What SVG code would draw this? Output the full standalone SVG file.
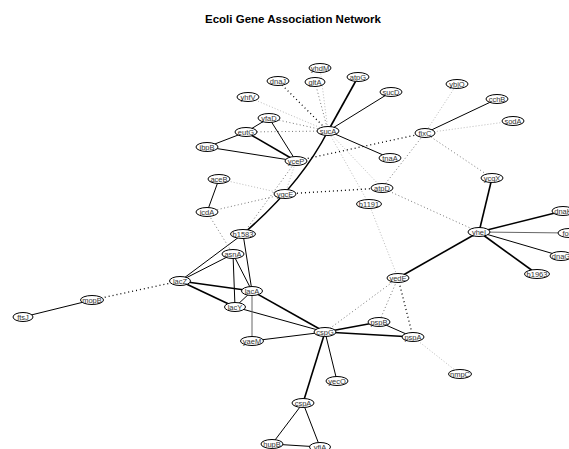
<svg xmlns="http://www.w3.org/2000/svg" width="569" height="449" viewBox="0 0 569 449">
<style>
.n ellipse{fill:#fff;stroke:#000;stroke-width:1}
.n text{font-family:"Liberation Sans",Arial,sans-serif;font-size:7.5px;fill:#333;text-anchor:middle}
.title{font-family:"Liberation Sans",Arial,sans-serif;font-size:11.5px;font-weight:bold;fill:#000;text-anchor:middle}
#edges line,#edges path{fill:none}
.s1{stroke:#000;stroke-width:1.6}
.s2{stroke:#000;stroke-width:1}
.s3{stroke:#666;stroke-width:1}
.d1{stroke:#000;stroke-width:1.3;stroke-dasharray:1 3}
.d2{stroke:#777;stroke-width:1;stroke-dasharray:1 2.5}
.d3{stroke:#bbb;stroke-width:1;stroke-dasharray:1 2}
</style>
<rect width="569" height="449" fill="#fff"/>
<text class="title" x="293" y="23">Ecoli Gene Association Network</text>
<g id="edges">
<line class="d3" x1="328" y1="131" x2="320" y2="68"/>
<line class="d2" x1="328" y1="131" x2="315" y2="82"/>
<line class="d1" x1="328" y1="131" x2="278" y2="81"/>
<line class="s1" x1="328" y1="131" x2="358" y2="77"/>
<line class="s2" x1="328" y1="131" x2="391" y2="92"/>
<line class="d3" x1="328" y1="131" x2="248" y2="97"/>
<line class="d2" x1="328" y1="131" x2="269" y2="118"/>
<line class="d2" x1="328" y1="131" x2="246" y2="132"/>
<path class="s1" d="M328,131 Q300,185 243,234"/>
<line class="s2" x1="328" y1="131" x2="390" y2="158"/>
<line class="d3" x1="328" y1="131" x2="382" y2="188"/>
<line class="d3" x1="328" y1="131" x2="369" y2="204"/>
<line class="d1" x1="296" y1="161" x2="425" y2="133"/>
<line class="d3" x1="425" y1="133" x2="457" y2="84"/>
<line class="s2" x1="425" y1="133" x2="497" y2="99"/>
<line class="d3" x1="425" y1="133" x2="513" y2="121"/>
<line class="d2" x1="425" y1="133" x2="492" y2="178"/>
<line class="d2" x1="425" y1="133" x2="382" y2="188"/>
<line class="s1" x1="492" y1="178" x2="479" y2="232"/>
<line class="s1" x1="479" y1="232" x2="563" y2="211"/>
<line class="s3" x1="479" y1="232" x2="569" y2="233"/>
<line class="s2" x1="479" y1="232" x2="561" y2="256"/>
<line class="s1" x1="479" y1="232" x2="537" y2="274"/>
<line class="s1" x1="479" y1="232" x2="398" y2="278"/>
<line class="d2" x1="479" y1="232" x2="382" y2="188"/>
<line class="d1" x1="285" y1="194" x2="382" y2="188"/>
<line class="d3" x1="369" y1="204" x2="398" y2="278"/>
<line class="d2" x1="398" y1="278" x2="325" y2="332"/>
<line class="d2" x1="398" y1="278" x2="379" y2="322"/>
<line class="d1" x1="398" y1="278" x2="413" y2="337"/>
<line class="s1" x1="325" y1="332" x2="379" y2="322"/>
<line class="s1" x1="325" y1="332" x2="413" y2="337"/>
<line class="s2" x1="379" y1="322" x2="413" y2="337"/>
<line class="s2" x1="325" y1="332" x2="252" y2="341"/>
<line class="s2" x1="325" y1="332" x2="337" y2="381"/>
<line class="s1" x1="325" y1="332" x2="303" y2="403"/>
<line class="s1" x1="325" y1="332" x2="252" y2="291"/>
<line class="s2" x1="325" y1="332" x2="235" y2="307"/>
<line class="d3" x1="413" y1="337" x2="460" y2="374"/>
<line class="s2" x1="303" y1="403" x2="272" y2="444"/>
<line class="s2" x1="303" y1="403" x2="320" y2="447"/>
<line class="s2" x1="272" y1="444" x2="320" y2="447"/>
<line class="d1" x1="180" y1="281" x2="92" y2="300"/>
<line class="s2" x1="92" y1="300" x2="23" y2="317"/>
<line class="s2" x1="180" y1="281" x2="243" y2="234"/>
<line class="s2" x1="180" y1="281" x2="233" y2="254"/>
<line class="s1" x1="180" y1="281" x2="252" y2="291"/>
<line class="s1" x1="180" y1="281" x2="235" y2="307"/>
<line class="s2" x1="233" y1="254" x2="235" y2="307"/>
<line class="s2" x1="233" y1="254" x2="252" y2="291"/>
<line class="s2" x1="243" y1="234" x2="252" y2="291"/>
<line class="s2" x1="252" y1="291" x2="235" y2="307"/>
<line class="s3" x1="252" y1="291" x2="252" y2="341"/>
<line class="s2" x1="246" y1="132" x2="269" y2="118"/>
<line class="s2" x1="246" y1="132" x2="207" y2="147"/>
<line class="s1" x1="246" y1="132" x2="296" y2="161"/>
<line class="s2" x1="269" y1="118" x2="296" y2="161"/>
<line class="s2" x1="207" y1="147" x2="296" y2="161"/>
<line class="s2" x1="219" y1="179" x2="207" y2="212"/>
<line class="d3" x1="219" y1="179" x2="285" y2="194"/>
<line class="d2" x1="207" y1="212" x2="285" y2="194"/>
<line class="d2" x1="207" y1="212" x2="233" y2="254"/>
<line class="d3" x1="296" y1="161" x2="285" y2="194"/>
<line class="d2" x1="296" y1="161" x2="243" y2="234"/>
</g>
<g id="n-yhdM" class="n"><ellipse cx="320" cy="68" rx="11" ry="4.5"/><text x="320" y="70.6">yhdM</text></g>
<g id="n-dnaJ" class="n"><ellipse cx="278" cy="81" rx="11" ry="4.5"/><text x="278" y="83.6">dnaJ</text></g>
<g id="n-gltA" class="n"><ellipse cx="315" cy="82" rx="10" ry="4.5"/><text x="315" y="84.6">gltA</text></g>
<g id="n-atpG" class="n"><ellipse cx="358" cy="77" rx="11" ry="4.5"/><text x="358" y="79.6">atpG</text></g>
<g id="n-sucD" class="n"><ellipse cx="391" cy="92" rx="11" ry="4.5"/><text x="391" y="94.6">sucD</text></g>
<g id="n-yhfV" class="n"><ellipse cx="248" cy="97" rx="11" ry="4.5"/><text x="248" y="99.6">yhfV</text></g>
<g id="n-yfaD" class="n"><ellipse cx="269" cy="118" rx="11" ry="4.5"/><text x="269" y="120.6">yfaD</text></g>
<g id="n-eutG" class="n"><ellipse cx="246" cy="132" rx="11" ry="4.5"/><text x="246" y="134.6">eutG</text></g>
<g id="n-sucA" class="n"><ellipse cx="328" cy="131" rx="11" ry="4.5"/><text x="328" y="133.6">sucA</text></g>
<g id="n-ibpB" class="n"><ellipse cx="207" cy="147" rx="11" ry="4.5"/><text x="207" y="149.6">ibpB</text></g>
<g id="n-yceP" class="n"><ellipse cx="296" cy="161" rx="11" ry="4.5"/><text x="296" y="163.6">yceP</text></g>
<g id="n-ybjO" class="n"><ellipse cx="457" cy="84" rx="11" ry="4.5"/><text x="457" y="86.6">ybjO</text></g>
<g id="n-cchB" class="n"><ellipse cx="497" cy="99" rx="11" ry="4.5"/><text x="497" y="101.6">cchB</text></g>
<g id="n-sodA" class="n"><ellipse cx="513" cy="121" rx="11" ry="4.5"/><text x="513" y="123.6">sodA</text></g>
<g id="n-fixC" class="n"><ellipse cx="425" cy="133" rx="10" ry="4.5"/><text x="425" y="135.6">fixC</text></g>
<g id="n-tnaA" class="n"><ellipse cx="390" cy="158" rx="11" ry="4.5"/><text x="390" y="160.6">tnaA</text></g>
<g id="n-ycgX" class="n"><ellipse cx="492" cy="178" rx="11" ry="4.5"/><text x="492" y="180.6">ycgX</text></g>
<g id="n-aceB" class="n"><ellipse cx="219" cy="179" rx="11" ry="4.5"/><text x="219" y="181.6">aceB</text></g>
<g id="n-atpD" class="n"><ellipse cx="382" cy="188" rx="11" ry="4.5"/><text x="382" y="190.6">atpD</text></g>
<g id="n-ygcE" class="n"><ellipse cx="285" cy="194" rx="11" ry="4.5"/><text x="285" y="196.6">ygcE</text></g>
<g id="n-b1191" class="n"><ellipse cx="369" cy="204" rx="12.5" ry="4.5"/><text x="369" y="206.6">b1191</text></g>
<g id="n-icdA" class="n"><ellipse cx="207" cy="212" rx="11" ry="4.5"/><text x="207" y="214.6">icdA</text></g>
<g id="n-b1583" class="n"><ellipse cx="243" cy="234" rx="12.5" ry="4.5"/><text x="243" y="236.6">b1583</text></g>
<g id="n-asnA" class="n"><ellipse cx="233" cy="254" rx="11" ry="4.5"/><text x="233" y="256.6">asnA</text></g>
<g id="n-yheI" class="n"><ellipse cx="479" cy="232" rx="11" ry="4.5"/><text x="479" y="234.6">yheI</text></g>
<g id="n-dnaK" class="n"><ellipse cx="563" cy="211" rx="11" ry="4.5"/><text x="563" y="213.6">dnaK</text></g>
<g id="n-folK" class="n"><ellipse cx="569" cy="233" rx="11" ry="4.5"/><text x="569" y="235.6">folK</text></g>
<g id="n-dnaG" class="n"><ellipse cx="561" cy="256" rx="11" ry="4.5"/><text x="561" y="258.6">dnaG</text></g>
<g id="n-b1963" class="n"><ellipse cx="537" cy="274" rx="12.5" ry="4.5"/><text x="537" y="276.6">b1963</text></g>
<g id="n-lacZ" class="n"><ellipse cx="180" cy="281" rx="10.5" ry="4.5"/><text x="180" y="283.6">lacZ</text></g>
<g id="n-mopB" class="n"><ellipse cx="92" cy="300" rx="11.5" ry="4.5"/><text x="92" y="302.6">mopB</text></g>
<g id="n-ftsJ" class="n"><ellipse cx="23" cy="317" rx="10" ry="4.5"/><text x="23" y="319.6">ftsJ</text></g>
<g id="n-lacA" class="n"><ellipse cx="252" cy="291" rx="10.5" ry="4.5"/><text x="252" y="293.6">lacA</text></g>
<g id="n-lacY" class="n"><ellipse cx="235" cy="307" rx="10.5" ry="4.5"/><text x="235" y="309.6">lacY</text></g>
<g id="n-yedE" class="n"><ellipse cx="398" cy="278" rx="11" ry="4.5"/><text x="398" y="280.6">yedE</text></g>
<g id="n-pspB" class="n"><ellipse cx="379" cy="322" rx="11" ry="4.5"/><text x="379" y="324.6">pspB</text></g>
<g id="n-yaeM" class="n"><ellipse cx="252" cy="341" rx="11.5" ry="4.5"/><text x="252" y="343.6">yaeM</text></g>
<g id="n-cspG" class="n"><ellipse cx="325" cy="332" rx="11" ry="4.5"/><text x="325" y="334.6">cspG</text></g>
<g id="n-pspA" class="n"><ellipse cx="413" cy="337" rx="11" ry="4.5"/><text x="413" y="339.6">pspA</text></g>
<g id="n-nmpC" class="n"><ellipse cx="460" cy="374" rx="11.5" ry="4.5"/><text x="460" y="376.6">nmpC</text></g>
<g id="n-yecO" class="n"><ellipse cx="337" cy="381" rx="11" ry="4.5"/><text x="337" y="383.6">yecO</text></g>
<g id="n-cspA" class="n"><ellipse cx="303" cy="403" rx="11" ry="4.5"/><text x="303" y="405.6">cspA</text></g>
<g id="n-hupB" class="n"><ellipse cx="272" cy="444" rx="11" ry="4.5"/><text x="272" y="446.6">hupB</text></g>
<g id="n-yfiA" class="n"><ellipse cx="320" cy="447" rx="10.5" ry="4.5"/><text x="320" y="449.6">yfiA</text></g>
</svg>
